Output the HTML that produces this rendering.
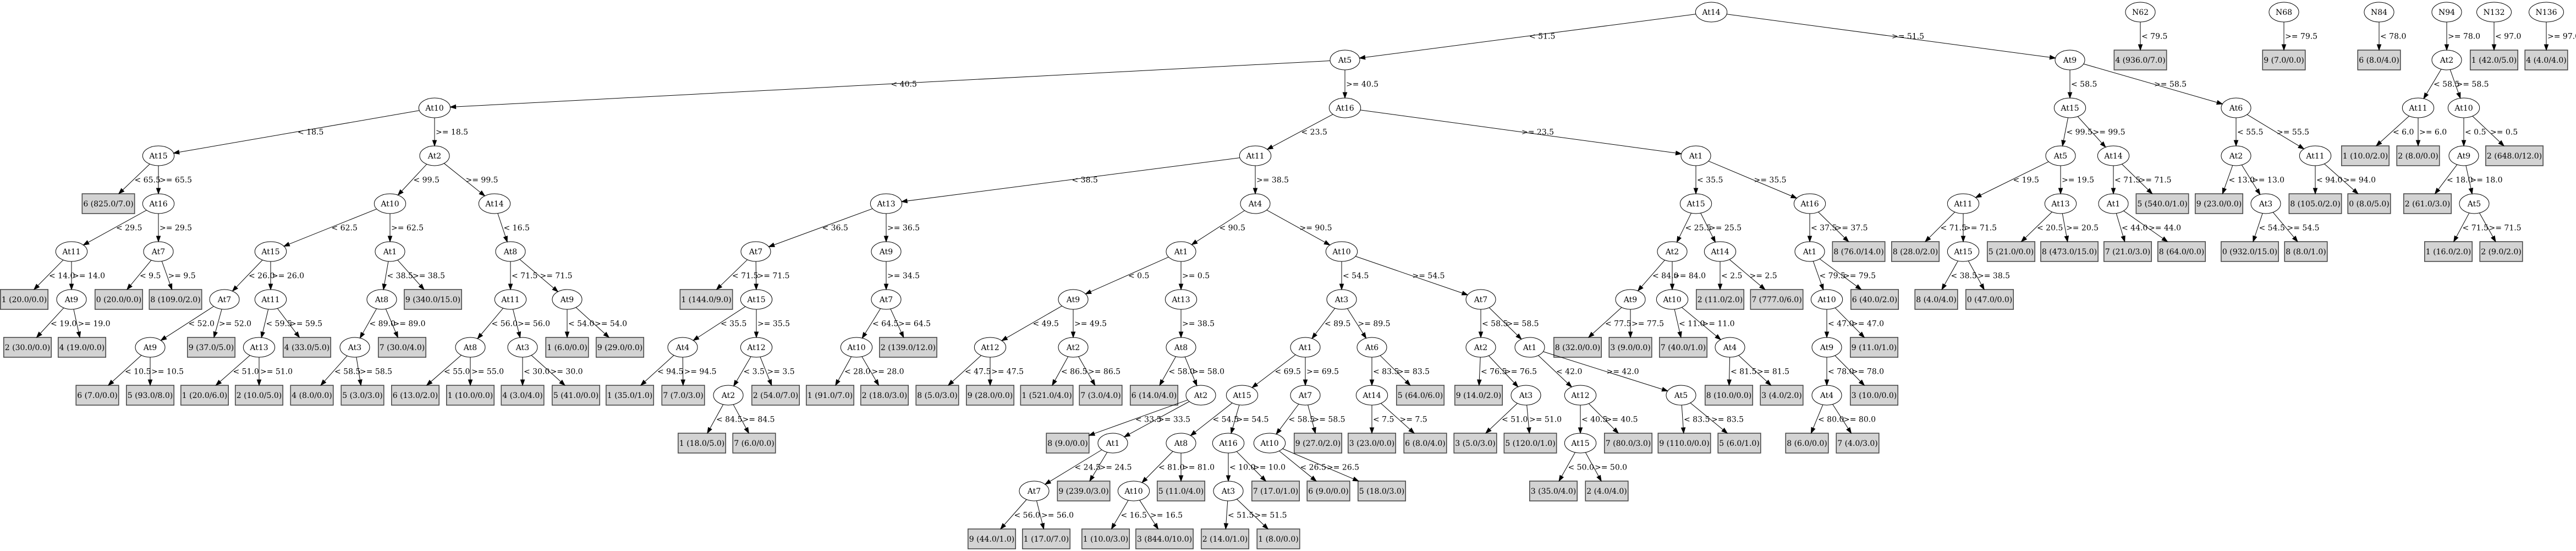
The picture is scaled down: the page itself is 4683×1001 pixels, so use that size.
<!DOCTYPE html>
<html><head><meta charset="utf-8">
<style>
html,body{margin:0;padding:0;background:#fff;}
svg{display:block;}
text{font-family:"DejaVu Serif","Liberation Serif",serif;font-size:14px;fill:#000;}
#nodes text{text-anchor:middle;}
</style></head>
<body>
<svg id="s" xmlns="http://www.w3.org/2000/svg" width="4683" height="1001" viewBox="0 0 4683 1001">
<rect width="4683" height="1001" fill="#fff"/>
<g id="shapes"></g>
<g id="edges"></g>
<g id="nodes">
<text id="a0">At14</text><text id="a1">At5</text><text id="a2">At10</text><text id="a3">At15</text><text id="a4">At2</text>
<text id="b1">6 (825.0/7.0)</text><text id="a5">At16</text><text id="a6">At10</text><text id="a7">At14</text>
<text id="a8">At11</text><text id="a9">At7</text><text id="a10">At15</text><text id="a11">At1</text><text id="a12">At8</text>
<text id="b2">1 (20.0/0.0)</text><text id="a13">At9</text><text id="b3">0 (20.0/0.0)</text><text id="b4">8 (109.0/2.0)</text>
<text id="a14">At7</text><text id="a15">At11</text><text id="a16">At8</text><text id="b5">9 (340.0/15.0)</text><text id="a17">At11</text><text id="a18">At9</text>
<text id="b6">2 (30.0/0.0)</text><text id="b7">4 (19.0/0.0)</text><text id="a19">At9</text><text id="b8">9 (37.0/5.0)</text><text id="a20">At13</text>
<text id="b9">4 (33.0/5.0)</text><text id="a21">At3</text><text id="b10">7 (30.0/4.0)</text><text id="a22">At8</text><text id="a23">At3</text>
<text id="b11">1 (6.0/0.0)</text><text id="b12">9 (29.0/0.0)</text>
<text id="b13">6 (7.0/0.0)</text><text id="b14">5 (93.0/8.0)</text><text id="b15">1 (20.0/6.0)</text><text id="b16">2 (10.0/5.0)</text>
<text id="b17">4 (8.0/0.0)</text><text id="b18">5 (3.0/3.0)</text><text id="b19">6 (13.0/2.0)</text><text id="b20">1 (10.0/0.0)</text>
<text id="b21">4 (3.0/4.0)</text><text id="b22">5 (41.0/0.0)</text>
<text id="a24">At16</text><text id="a25">At11</text><text id="a26">At1</text><text id="a27">At13</text><text id="a28">At4</text>
<text id="a29">At7</text><text id="a30">At9</text><text id="b23">1 (144.0/9.0)</text><text id="a31">At15</text><text id="a32">At7</text>
<text id="a33">At4</text><text id="a34">At12</text><text id="a35">At10</text><text id="b24">2 (139.0/12.0)</text>
<text id="b25">1 (35.0/1.0)</text><text id="b26">7 (7.0/3.0)</text><text id="a36">At2</text><text id="b27">2 (54.0/7.0)</text>
<text id="b28">1 (91.0/7.0)</text><text id="b29">2 (18.0/3.0)</text><text id="b30">1 (18.0/5.0)</text><text id="b31">7 (6.0/0.0)</text>
<text id="a37">At1</text><text id="a38">At10</text><text id="a39">At9</text><text id="a40">At13</text><text id="a41">At3</text><text id="a42">At7</text>
<text id="a43">At12</text><text id="a44">At2</text><text id="a45">At8</text><text id="a46">At1</text><text id="a47">At6</text><text id="a48">At2</text><text id="a49">At1</text>
<text id="b32">8 (5.0/3.0)</text><text id="b33">9 (28.0/0.0)</text><text id="b34">1 (521.0/4.0)</text><text id="b35">7 (3.0/4.0)</text><text id="b36">6 (14.0/4.0)</text>
<text id="a50">At2</text><text id="a51">At15</text><text id="a52">At7</text><text id="a53">At14</text><text id="b37">5 (64.0/6.0)</text>
<text id="b38">9 (14.0/2.0)</text><text id="a54">At3</text><text id="a55">At12</text><text id="a56">At5</text>
<text id="b39">8 (9.0/0.0)</text><text id="a57">At1</text><text id="a58">At8</text><text id="a59">At16</text><text id="a60">At10</text>
<text id="b40">9 (27.0/2.0)</text><text id="b41">3 (23.0/0.0)</text><text id="b42">6 (8.0/4.0)</text><text id="b43">3 (5.0/3.0)</text>
<text id="b44">5 (120.0/1.0)</text><text id="a61">At15</text><text id="b45">7 (80.0/3.0)</text><text id="b46">9 (110.0/0.0)</text><text id="b47">5 (6.0/1.0)</text>
<text id="a62">At7</text><text id="b48">9 (239.0/3.0)</text><text id="a63">At10</text><text id="b49">5 (11.0/4.0)</text><text id="a64">At3</text>
<text id="b50">7 (17.0/1.0)</text><text id="b51">6 (9.0/0.0)</text><text id="b52">5 (18.0/3.0)</text><text id="b53">3 (35.0/4.0)</text><text id="b54">2 (4.0/4.0)</text>
<text id="b55">9 (44.0/1.0)</text><text id="b56">1 (17.0/7.0)</text><text id="b57">1 (10.0/3.0)</text><text id="b58">3 (844.0/10.0)</text>
<text id="b59">2 (14.0/1.0)</text><text id="b60">1 (8.0/0.0)</text>
<text id="a65">At15</text><text id="a66">At16</text><text id="a67">At2</text><text id="a68">At14</text><text id="a69">At1</text><text id="b61">8 (76.0/14.0)</text>
<text id="a70">At9</text><text id="a71">At10</text><text id="b62">2 (11.0/2.0)</text><text id="b63">7 (777.0/6.0)</text><text id="a72">At10</text><text id="b64">6 (40.0/2.0)</text>
<text id="b65">8 (32.0/0.0)</text><text id="b66">3 (9.0/0.0)</text><text id="b67">7 (40.0/1.0)</text><text id="a73">At4</text><text id="a74">At9</text><text id="b68">9 (11.0/1.0)</text>
<text id="b69">8 (10.0/0.0)</text><text id="b70">3 (4.0/2.0)</text><text id="a75">At4</text><text id="b71">3 (10.0/0.0)</text>
<text id="b72">8 (6.0/0.0)</text><text id="b73">7 (4.0/3.0)</text>
<text id="a76">At9</text><text id="a77">At15</text><text id="a78">At6</text><text id="a79">At5</text><text id="a80">At14</text><text id="a81">At2</text><text id="a82">At11</text>
<text id="a83">At11</text><text id="a84">At13</text><text id="a85">At1</text><text id="b74">5 (540.0/1.0)</text><text id="b75">9 (23.0/0.0)</text><text id="a86">At3</text>
<text id="b76">8 (105.0/2.0)</text><text id="b77">0 (8.0/5.0)</text><text id="b78">8 (28.0/2.0)</text><text id="a87">At15</text><text id="b79">5 (21.0/0.0)</text>
<text id="b80">8 (473.0/15.0)</text><text id="b81">7 (21.0/3.0)</text><text id="b82">8 (64.0/0.0)</text><text id="b83">0 (932.0/15.0)</text><text id="b84">8 (8.0/1.0)</text>
<text id="b85">8 (4.0/4.0)</text><text id="b86">0 (47.0/0.0)</text>
<text id="n1">N62</text><text id="b87">4 (936.0/7.0)</text><text id="n2">N68</text><text id="b88">9 (7.0/0.0)</text>
<text id="n3">N84</text><text id="b89">6 (8.0/4.0)</text><text id="n4">N94</text><text id="a88">At2</text>
<text id="n5">N132</text><text id="b90">1 (42.0/5.0)</text><text id="n6">N136</text><text id="b91">4 (4.0/4.0)</text>
<text id="a89">At11</text><text id="a90">At10</text><text id="b92">1 (10.0/2.0)</text><text id="b93">2 (8.0/0.0)</text><text id="a91">At9</text>
<text id="b94">2 (648.0/12.0)</text><text id="b95">2 (61.0/3.0)</text><text id="a92">At5</text><text id="b96">1 (16.0/2.0)</text><text id="b97">2 (9.0/2.0)</text>
</g>
<g id="labels">
<text>&lt; 51.5</text><text>&gt;= 51.5</text>
<text>&lt; 40.5</text><text>&gt;= 40.5</text>
<text>&lt; 18.5</text><text>&gt;= 18.5</text>
<text>&lt; 65.5</text><text>&gt;= 65.5</text>
<text>&lt; 29.5</text><text>&gt;= 29.5</text>
<text>&lt; 14.0</text><text>&gt;= 14.0</text>
<text>&lt; 19.0</text><text>&gt;= 19.0</text>
<text>&lt; 9.5</text><text>&gt;= 9.5</text>
<text>&lt; 99.5</text><text>&gt;= 99.5</text>
<text>&lt; 62.5</text><text>&gt;= 62.5</text>
<text>&lt; 26.0</text><text>&gt;= 26.0</text>
<text>&lt; 52.0</text><text>&gt;= 52.0</text>
<text>&lt; 10.5</text><text>&gt;= 10.5</text>
<text>&lt; 59.5</text><text>&gt;= 59.5</text>
<text>&lt; 51.0</text><text>&gt;= 51.0</text>
<text>&lt; 38.5</text><text>&gt;= 38.5</text>
<text>&lt; 89.0</text><text>&gt;= 89.0</text>
<text>&lt; 58.5</text><text>&gt;= 58.5</text>
<text>&lt; 16.5</text>
<text>&lt; 71.5</text><text>&gt;= 71.5</text>
<text>&lt; 56.0</text><text>&gt;= 56.0</text>
<text>&lt; 55.0</text><text>&gt;= 55.0</text>
<text>&lt; 30.0</text><text>&gt;= 30.0</text>
<text>&lt; 54.0</text><text>&gt;= 54.0</text>
<text>&lt; 23.5</text><text>&gt;= 23.5</text>
<text>&lt; 38.5</text><text>&gt;= 38.5</text>
<text>&lt; 36.5</text><text>&gt;= 36.5</text>
<text>&lt; 71.5</text><text>&gt;= 71.5</text>
<text>&lt; 35.5</text><text>&gt;= 35.5</text>
<text>&lt; 94.5</text><text>&gt;= 94.5</text>
<text>&lt; 3.5</text><text>&gt;= 3.5</text>
<text>&lt; 84.5</text><text>&gt;= 84.5</text>
<text>&gt;= 34.5</text>
<text>&lt; 64.5</text><text>&gt;= 64.5</text>
<text>&lt; 28.0</text><text>&gt;= 28.0</text>
<text>&lt; 90.5</text><text>&gt;= 90.5</text>
<text>&lt; 0.5</text><text>&gt;= 0.5</text>
<text>&lt; 49.5</text><text>&gt;= 49.5</text>
<text>&lt; 47.5</text><text>&gt;= 47.5</text>
<text>&lt; 86.5</text><text>&gt;= 86.5</text>
<text>&gt;= 38.5</text>
<text>&lt; 58.0</text><text>&gt;= 58.0</text>
<text>&lt; 33.5</text><text>&gt;= 33.5</text>
<text>&lt; 24.5</text><text>&gt;= 24.5</text>
<text>&lt; 56.0</text><text>&gt;= 56.0</text>
<text>&lt; 54.5</text><text>&gt;= 54.5</text>
<text>&lt; 89.5</text><text>&gt;= 89.5</text>
<text>&lt; 69.5</text><text>&gt;= 69.5</text>
<text>&lt; 54.5</text><text>&gt;= 54.5</text>
<text>&lt; 81.0</text><text>&gt;= 81.0</text>
<text>&lt; 16.5</text><text>&gt;= 16.5</text>
<text>&lt; 10.0</text><text>&gt;= 10.0</text>
<text>&lt; 51.5</text><text>&gt;= 51.5</text>
<text>&lt; 58.5</text><text>&gt;= 58.5</text>
<text>&lt; 26.5</text><text>&gt;= 26.5</text>
<text>&lt; 83.5</text><text>&gt;= 83.5</text>
<text>&lt; 7.5</text><text>&gt;= 7.5</text>
<text>&lt; 58.5</text><text>&gt;= 58.5</text>
<text>&lt; 76.5</text><text>&gt;= 76.5</text>
<text>&lt; 51.0</text><text>&gt;= 51.0</text>
<text>&lt; 42.0</text><text>&gt;= 42.0</text>
<text>&lt; 40.5</text><text>&gt;= 40.5</text>
<text>&lt; 50.0</text><text>&gt;= 50.0</text>
<text>&lt; 83.5</text><text>&gt;= 83.5</text>
<text>&lt; 35.5</text><text>&gt;= 35.5</text>
<text>&lt; 25.5</text><text>&gt;= 25.5</text>
<text>&lt; 84.0</text><text>&gt;= 84.0</text>
<text>&lt; 77.5</text><text>&gt;= 77.5</text>
<text>&lt; 11.0</text><text>&gt;= 11.0</text>
<text>&lt; 81.5</text><text>&gt;= 81.5</text>
<text>&lt; 2.5</text><text>&gt;= 2.5</text>
<text>&lt; 37.5</text><text>&gt;= 37.5</text>
<text>&lt; 79.5</text><text>&gt;= 79.5</text>
<text>&lt; 47.0</text><text>&gt;= 47.0</text>
<text>&lt; 78.0</text><text>&gt;= 78.0</text>
<text>&lt; 80.0</text><text>&gt;= 80.0</text>
<text>&lt; 58.5</text><text>&gt;= 58.5</text>
<text>&lt; 99.5</text><text>&gt;= 99.5</text>
<text>&lt; 19.5</text><text>&gt;= 19.5</text>
<text>&lt; 71.5</text><text>&gt;= 71.5</text>
<text>&lt; 38.5</text><text>&gt;= 38.5</text>
<text>&lt; 20.5</text><text>&gt;= 20.5</text>
<text>&lt; 71.5</text><text>&gt;= 71.5</text>
<text>&lt; 44.0</text><text>&gt;= 44.0</text>
<text>&lt; 55.5</text><text>&gt;= 55.5</text>
<text>&lt; 13.0</text><text>&gt;= 13.0</text>
<text>&lt; 54.5</text><text>&gt;= 54.5</text>
<text>&lt; 94.0</text><text>&gt;= 94.0</text>
<text>&lt; 79.5</text><text>&gt;= 79.5</text><text>&lt; 78.0</text><text>&gt;= 78.0</text><text>&lt; 97.0</text><text>&gt;= 97.0</text>
<text>&lt; 58.5</text><text>&gt;= 58.5</text>
<text>&lt; 6.0</text><text>&gt;= 6.0</text>
<text>&lt; 0.5</text><text>&gt;= 0.5</text>
<text>&lt; 18.0</text><text>&gt;= 18.0</text>
<text>&lt; 71.5</text><text>&gt;= 71.5</text>
</g>
</svg>
<script>
(function(){
var R=[22,109,196,283,370,457,544,631,718,805,892,979];
var N={a0:[3111,0],a1:[2445,1],a2:[790,2],a3:[288,3],a4:[790,3],b1:[197,4],a5:[288,4],a6:[709,4],a7:[899,4],
a8:[130,5],a9:[288,5],a10:[492,5],a11:[709,5],a12:[928,5],
b2:[44,6],a13:[130,6],b3:[216,6],b4:[319,6],a14:[408,6],a15:[492,6],a16:[694,6],b5:[787,6],a17:[928,6],a18:[1031,6],
b6:[50,7],b7:[149,7],a19:[273,7],b8:[384,7],a20:[471,7],b9:[558,7],a21:[645,7],b10:[731,7],a22:[855,7],a23:[950,7],b11:[1031,7],b12:[1127,7],
b13:[177,8],b14:[273,8],b15:[372,8],b16:[471,8],b17:[567,8],b18:[659,8],b19:[755,8],b20:[855,8],b21:[950,8],b22:[1047,8],
a24:[2445,2],a25:[2282,3],a26:[3083,3],a27:[1611,4],a28:[2282,4],a29:[1374,5],a30:[1611,5],b23:[1284,6],a31:[1375,6],a32:[1611,6],
a33:[1241,7],a34:[1375,7],a35:[1557,7],b24:[1651,7],b25:[1145,8],b26:[1242,8],a36:[1324,8],b27:[1410,8],b28:[1509,8],b29:[1608,8],
b30:[1276,9],b31:[1371,9],
a37:[2147,5],a38:[2439,5],a39:[1951,6],a40:[2147,6],a41:[2439,6],a42:[2692,6],
a43:[1800,7],a44:[1951,7],a45:[2147,7],a46:[2373,7],a47:[2494,7],a48:[2692,7],a49:[2781,7],
b32:[1704,8],b33:[1800,8],b34:[1903,8],b35:[2001,8],b36:[2098,8],a50:[2183,8],a51:[2258,8],a52:[2373,8],a53:[2494,8],b37:[2582,8],
b38:[2688,8],a54:[2774,8],a55:[2873,8],a56:[3056,8],
b39:[1941,9],a57:[2023,9],a58:[2147,9],a59:[2233,9],a60:[2308,9],b40:[2396,9],b41:[2494,9],b42:[2591,9],b43:[2682,9],b44:[2782,9],
a61:[2873,9],b45:[2960,9],b46:[3062,9],b47:[3162,9],
a62:[1880,10],b48:[1970,10],a63:[2061,10],b49:[2147,10],a64:[2233,10],b50:[2319,10],b51:[2415,10],b52:[2512,10],b53:[2824,10],b54:[2921,10],
b55:[1803,11],b56:[1902,11],b57:[2010,11],b58:[2117,11],b59:[2227,11],b60:[2324,11],
a65:[3083,4],a66:[3290,4],a67:[3040,5],a68:[3127,5],a69:[3290,5],b61:[3379,5],
a70:[2964,6],a71:[3040,6],b62:[3127,6],b63:[3230,6],a72:[3321,6],b64:[3408,6],
b65:[2868,7],b66:[2964,7],b67:[3060,7],a73:[3145,7],a74:[3321,7],b68:[3407,7],
b69:[3143,8],b70:[3239,8],a75:[3321,8],b71:[3407,8],b72:[3285,9],b73:[3377,9],
a76:[3763,1],a77:[3763,2],a78:[4065,2],a79:[3746,3],a80:[3842,3],a81:[4065,3],a82:[4209,3],
a83:[3569,4],a84:[3746,4],a85:[3842,4],b74:[3931,4],b75:[4034,4],a86:[4119,4],b76:[4209,4],b77:[4307,4],
b78:[3482,5],a87:[3569,5],b79:[3656,5],b80:[3762,5],b81:[3868,5],b82:[3966,5],b83:[4090,5],b84:[4192,5],
b85:[3520,6],b86:[3617,6],
n1:[3891,0],b87:[3891,1],n2:[4152,0],b88:[4152,1],n3:[4325,0],b89:[4325,1],n4:[4448,0],a88:[4448,1],
n5:[4534,0],b90:[4534,1],n6:[4629,0],b91:[4629,1],
a89:[4396,2],a90:[4479,2],b92:[4300,3],b93:[4396,3],a91:[4479,3],b94:[4571,3],b95:[4413,4],a92:[4498,4],b96:[4451,5],b97:[4547,5]};
var E=[["a0","a1"],["a0","a76"],["a1","a2"],["a1","a24"],["a2","a3"],["a2","a4"],["a3","b1"],["a3","a5"],["a5","a8"],["a5","a9"],
["a8","b2"],["a8","a13"],["a13","b6"],["a13","b7"],["a9","b3"],["a9","b4"],["a4","a6"],["a4","a7"],["a6","a10"],["a6","a11"],
["a10","a14"],["a10","a15"],["a14","a19"],["a14","b8"],["a19","b13"],["a19","b14"],["a15","a20"],["a15","b9"],["a20","b15"],["a20","b16"],
["a11","a16"],["a11","b5"],["a16","a21"],["a16","b10"],["a21","b17"],["a21","b18"],["a7","a12"],["a12","a17"],["a12","a18"],
["a17","a22"],["a17","a23"],["a22","b19"],["a22","b20"],["a23","b21"],["a23","b22"],["a18","b11"],["a18","b12"],
["a24","a25"],["a24","a26"],["a25","a27"],["a25","a28"],["a27","a29"],["a27","a30"],["a29","b23"],["a29","a31"],["a31","a33"],["a31","a34"],
["a33","b25"],["a33","b26"],["a34","a36"],["a34","b27"],["a36","b30"],["a36","b31"],["a30","a32"],["a32","a35"],["a32","b24"],["a35","b28"],["a35","b29"],
["a28","a37"],["a28","a38"],["a37","a39"],["a37","a40"],["a39","a43"],["a39","a44"],["a43","b32"],["a43","b33"],["a44","b34"],["a44","b35"],
["a40","a45"],["a45","b36"],["a45","a50"],["a50","b39"],["a50","a57"],["a57","a62"],["a57","b48"],["a62","b55"],["a62","b56"],
["a38","a41"],["a38","a42"],["a41","a46"],["a41","a47"],["a46","a51"],["a46","a52"],["a51","a58"],["a51","a59"],["a58","a63"],["a58","b49"],
["a63","b57"],["a63","b58"],["a59","a64"],["a59","b50"],["a64","b59"],["a64","b60"],["a52","a60"],["a52","b40"],["a60","b51"],["a60","b52"],
["a47","a53"],["a47","b37"],["a53","b41"],["a53","b42"],["a42","a48"],["a42","a49"],["a48","b38"],["a48","a54"],["a54","b43"],["a54","b44"],
["a49","a55"],["a49","a56"],["a55","a61"],["a55","b45"],["a61","b53"],["a61","b54"],["a56","b46"],["a56","b47"],
["a26","a65"],["a26","a66"],["a65","a67"],["a65","a68"],["a67","a70"],["a67","a71"],["a70","b65"],["a70","b66"],["a71","b67"],["a71","a73"],
["a73","b69"],["a73","b70"],["a68","b62"],["a68","b63"],["a66","a69"],["a66","b61"],["a69","a72"],["a69","b64"],["a72","a74"],["a72","b68"],
["a74","a75"],["a74","b71"],["a75","b72"],["a75","b73"],
["a76","a77"],["a76","a78"],["a77","a79"],["a77","a80"],["a79","a83"],["a79","a84"],["a83","b78"],["a83","a87"],["a87","b85"],["a87","b86"],
["a84","b79"],["a84","b80"],["a80","a85"],["a80","b74"],["a85","b81"],["a85","b82"],["a78","a81"],["a78","a82"],["a81","b75"],["a81","a86"],
["a86","b83"],["a86","b84"],["a82","b76"],["a82","b77"],
["n1","b87"],["n2","b88"],["n3","b89"],["n4","a88"],["n5","b90"],["n6","b91"],
["a88","a89"],["a88","a90"],["a89","b92"],["a89","b93"],["a90","a91"],["a90","b94"],["a91","b95"],["a91","a92"],["a92","b96"],["a92","b97"]];
var NS="http://www.w3.org/2000/svg",sh=document.getElementById("shapes"),eg=document.getElementById("edges");
function mk(t,a,p){var e=document.createElementNS(NS,t);for(var k in a)e.setAttribute(k,a[k]);p.appendChild(e);return e;}
var G={};
for(var id in N){var t=document.getElementById(id);if(!t)continue;var x=N[id][0],y=R[N[id][1]];
t.setAttribute("x",x);t.setAttribute("y",y+5);var w=t.getComputedTextLength();
if(id.charAt(0)=="b"){var bw=w+4;mk("rect",{x:x-bw/2,y:y-18,width:bw,height:36,fill:"#d3d3d3",stroke:"#4a4a4a","stroke-width":1.6},sh);G[id]={x:x,y:y,box:1,hw:bw/2,hh:18};}
else{var rx=Math.max(27,w/2+12);mk("ellipse",{cx:x,cy:y,rx:rx,ry:18,fill:"#fff",stroke:"#000","stroke-width":1},sh);G[id]={x:x,y:y,rx:rx,ry:18};}}
function bt(g,dx,dy){if(g.box){var a=Math.abs(dx)<1e-6?1e9:g.hw/Math.abs(dx),b=Math.abs(dy)<1e-6?1e9:g.hh/Math.abs(dy);return Math.min(a,b);}
return 1/Math.sqrt((dx/g.rx)*(dx/g.rx)+(dy/g.ry)*(dy/g.ry));}
var labs=document.getElementById("labels").getElementsByTagName("text");
for(var i=0;i<E.length;i++){var p=G[E[i][0]],c=G[E[i][1]];if(!p||!c)continue;
var dx=c.x-p.x,dy=c.y-p.y,L=Math.sqrt(dx*dx+dy*dy),ux=dx/L,uy=dy/L;
var t0=bt(p,dx,dy),t1=bt(c,-dx,-dy);
var sx=p.x+dx*t0,sy=p.y+dy*t0,ex=c.x-dx*t1,ey=c.y-dy*t1;
var bx=ex-ux*10,by=ey-uy*10;
mk("line",{x1:sx,y1:sy,x2:bx,y2:by,stroke:"#000","stroke-width":1},eg);
mk("polygon",{points:ex+","+ey+" "+(bx-uy*3.6)+","+(by+ux*3.6)+" "+(bx+uy*3.6)+","+(by-ux*3.6),fill:"#000",stroke:"#000","stroke-width":1},eg);
if(labs[i]){var mx=(p.x+c.x)/2,my=(p.y+c.y)/2;labs[i].setAttribute("x",mx+2);labs[i].setAttribute("y",my+5);}}
})();
</script>
</body></html>
